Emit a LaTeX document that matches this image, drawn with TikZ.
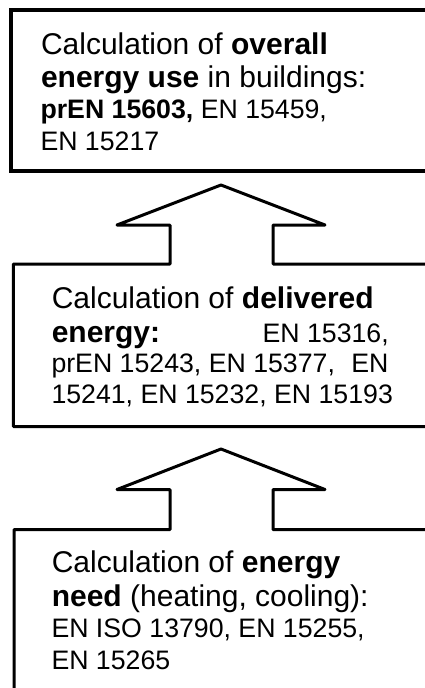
\documentclass[tikz,border=0pt]{standalone}
\usepackage{fontspec}
\setmainfont{Liberation Sans}
\begin{document}
\begin{tikzpicture}[x=1pt,y=-1pt,
  big/.style={font=\fontsize{30}{36}\selectfont},
  sml/.style={font=\fontsize{26.7}{32}\selectfont},
  ln/.style={anchor=base west, inner sep=0pt, outer sep=0pt},
  thickbox/.style={line width=4pt, line join=miter},
  outline/.style={line width=3pt, line join=round}]
\useasboundingbox (0,0) rectangle (425,688);
\fill[white] (0,0) rectangle (425,688);
\begin{scope}
\clip (0,0) rectangle (425,688);
% top box
\draw[thickbox] (440,10) -- (10.5,10) -- (10.5,170.5) -- (440,170.5);
% middle box with arrow 1
\coordinate (a1tip) at (221,185);
\coordinate (a1l) at (117,225);
\coordinate (a1r) at (325,225);
\draw[outline] (440,264) -- (273,264) -- (273,225) -- (a1r) -- (a1tip) -- (a1l)
  -- (170,225) -- (170,264) -- (13.3,264) -- (13.3,426.5) -- (440,426.5);
% bottom box with arrow 2
\coordinate (a2tip) at (221,449);
\coordinate (a2l) at (117,489.5);
\coordinate (a2r) at (325,489.5);
\draw[outline] (440,529.5) -- (273,529.5) -- (273,489.5) -- (a2r) -- (a2tip) -- (a2l)
  -- (170,489.5) -- (170,529.5) -- (14,529.5) -- (14,700);
\end{scope}
% top box text
\node[ln,big] (t1) at (41,54) {Calculation of \textbf{overall}};
\node[ln,big] (t2) at (41,87) {\textbf{energy use} in buildings:};
\node[ln,sml] (t3) at (40.5,118) {\textbf{prEN 15603,} EN 15459,};
\node[ln,sml] (t4) at (40.5,150) {EN 15217};
% middle box text
\node[ln,big] (m1) at (51.8,308) {Calculation of \textbf{delivered}};
\node[ln,big] (m2) at (51.8,342) {\hbox to 337pt{\textbf{energy:}\hfill\fontsize{26.7}{32}\selectfont EN 15316,}};
\node[ln,sml] (m3) at (51.5,372) {\hbox to 337pt{prEN 15243, EN 15377,\hfill EN}};
\node[ln,sml] (m4) at (51.5,403) {15241, EN 15232, EN 15193};
% bottom box text
\node[ln,big] (b1) at (51.8,572) {Calculation of \textbf{energy}};
\node[ln,big] (b2) at (51.8,606) {\textbf{need} (heating, cooling):};
\node[ln,sml] (b3) at (51.5,637.5) {EN ISO 13790, EN 15255,};
\node[ln,sml] (b4) at (51.5,669.5) {EN 15265};
\end{tikzpicture}
\end{document}
